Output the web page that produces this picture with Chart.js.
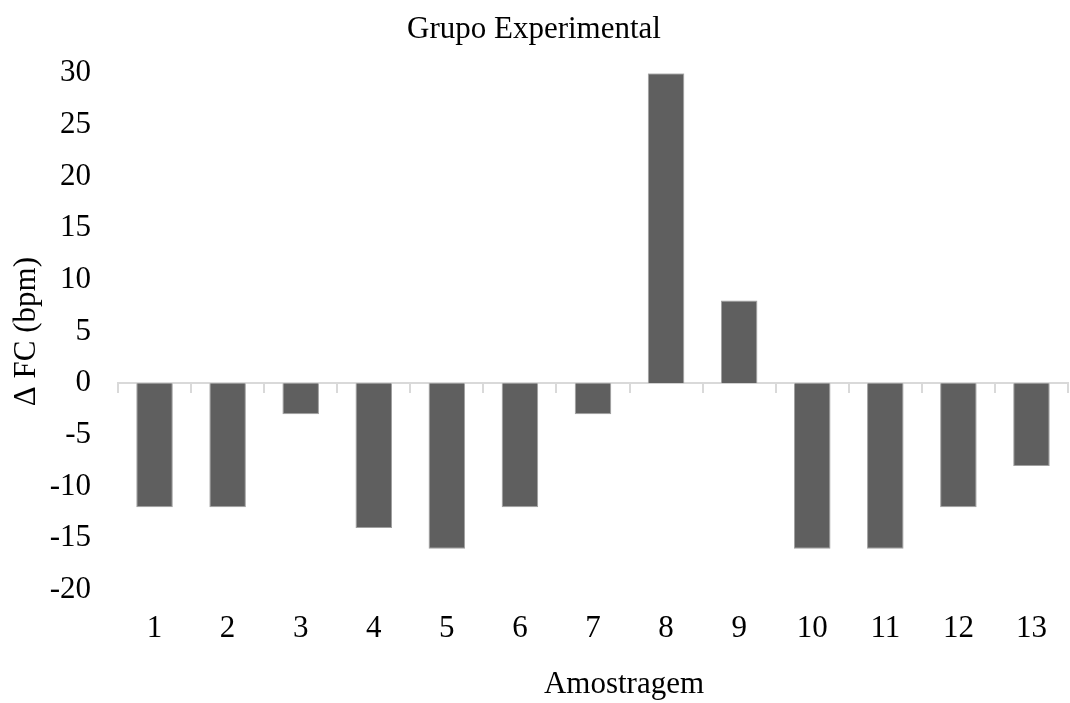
<!DOCTYPE html>
<html>
<head>
<meta charset="utf-8">
<script src="https://cdn.jsdelivr.net/npm/chart.js@4/dist/chart.umd.min.js"></script>
<style>
  body { margin: 0; background: #fff; }
  #wrap { width: 1070px; height: 703px; }
</style>
</head>
<body>
<div id="wrap"><canvas id="chart"></canvas></div>
<script>
const categories = ['1', '2', '3', '4', '5', '6', '7', '8', '9', '10', '11', '12', '13'];
const deltaFC = [-12, -12, -3, -14, -16, -12, -3, 30, 8, -16, -16, -12, -8];
const yTicks = [-20, -15, -10, -5, 0, 5, 10, 15, 20, 25, 30];
const xTitle = 'Amostragem';

const serif = 'Liberation Serif, Times New Roman, serif';
const fontSize = 31;
const ctx = document.getElementById('chart').getContext('2d');

// the x title in the source sits a bit right of the plot centre
const xTitlePlugin = {
  id: 'xTitle',
  afterDraw(chart) {
    const { ctx: c, chartArea } = chart;
    c.save();
    c.font = `${fontSize}px ${serif}`;
    c.fillStyle = '#000';
    c.textAlign = 'center';
    c.textBaseline = 'middle';
    c.fillText(xTitle, (chartArea.left + chartArea.right) / 2 + 31, chart.height - 18);
    c.restore();
  },
};

new Chart(ctx, {
  type: 'bar',
  data: {
    labels: categories,
    datasets: [{
      label: 'Δ FC',
      data: deltaFC,
      backgroundColor: '#5f5f5f',
      borderColor: '#a0a0a0',
      borderWidth: 1,
      barPercentage: 0.5,
      categoryPercentage: 1,
      xAxisID: 'x',
    }],
  },
  options: {
    responsive: true,
    maintainAspectRatio: false,
    animation: false,
    layout: { padding: { left: 0, right: 2, top: 0, bottom: 0 } },
    plugins: {
      legend: { display: false },
      tooltip: { enabled: false },
      title: {
        display: true,
        text: 'Grupo Experimental',
        color: '#000',
        font: { family: serif, size: fontSize, weight: 'normal' },
        padding: { top: 11, bottom: 25 },
      },
    },
    scales: {
      x: {
        type: 'category',
        position: { y: 0 },
        ticks: { display: false },
        grid: {
          offset: true,
          drawOnChartArea: false,
          drawTicks: true,
          tickLength: 9,
          color: '#d9d9d9',
          lineWidth: 2,
        },
        border: { display: true, color: '#d9d9d9', width: 2 },
      },
      x2: {
        type: 'category',
        position: 'bottom',
        grid: { display: false, drawTicks: false },
        border: { display: false },
        afterFit: (axis) => { axis.height = 113; },
        ticks: {
          color: '#000',
          font: { family: serif, size: fontSize },
          padding: 20,
        },
      },
      y: {
        min: -20,
        max: 30,
        afterBuildTicks: (axis) => {
          axis.ticks = yTicks.map((v) => ({ value: v }));
        },
        afterFit: (axis) => { axis.width = 118; },
        grid: { display: false, drawTicks: false },
        border: { display: false },
        ticks: {
          color: '#000',
          font: { family: serif, size: fontSize },
          padding: 27,
        },
        title: {
          display: true,
          text: 'Δ FC (bpm)',
          color: '#000',
          font: { family: serif, size: fontSize },
          padding: { top: 8, bottom: 0 },
        },
      },
    },
  },
  plugins: [xTitlePlugin],
});
</script>
</body>
</html>
